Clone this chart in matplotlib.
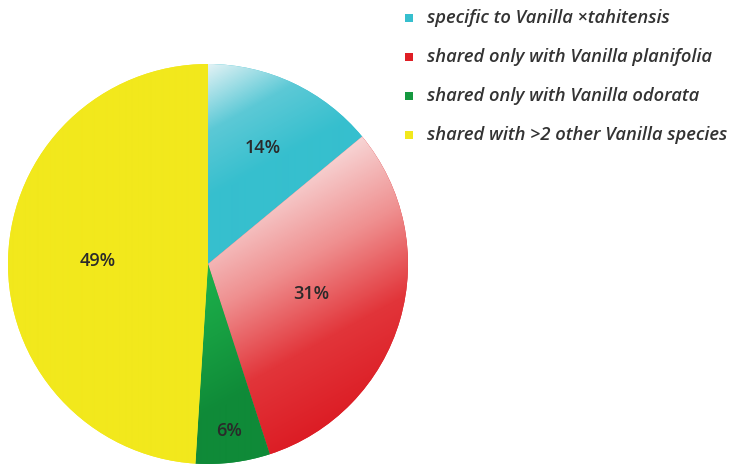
import numpy as np
import matplotlib
matplotlib.use("Agg")
import matplotlib.pyplot as plt
from matplotlib.colors import LinearSegmentedColormap, to_rgb

categories = ["specific to Vanilla \u00d7tahitensis",
              "shared only with Vanilla planifolia",
              "shared only with Vanilla odorata",
              "shared with >2 other Vanilla species"]
values = [14, 31, 6, 49]
pct_labels = ["14%", "31%", "6%", "49%"]

base_colors = ["#36bfce", "#df1e25", "#15983f", "#f2e81c"]
# gradient stops for each wedge (light -> saturated)
grad_stops = [["#e2f2f5", "#5cc9d6", "#36bfce", "#36bfce"],
              ["#f7d4d4", "#ef8f8f", "#e2353a", "#dc1c24"],
              ["#1db24c", "#179f42", "#0f8a38", "#0f8a38"],
              ["#f2e81c", "#f2e81c", "#f2e81c", "#f2e81c"]]
label_radius = [0.64, 0.54, 0.84, 0.55]

W, H = 734, 466
fig = plt.figure(figsize=(W / 100, H / 100), dpi=100)
fig.patch.set_facecolor("white")

cx, cy, r = 208, 264, 200
ax = fig.add_axes([(cx - r) / W, (H - cy - r) / H, 2 * r / W, 2 * r / H])
wedges, texts = ax.pie(values, colors=base_colors, startangle=90,
                       counterclock=False, radius=1.0,
                       wedgeprops=dict(linewidth=0))
ax.set_xlim(-1, 1)
ax.set_ylim(-1, 1)
ax.set_aspect("equal")
ax.axis("off")

# diagonal gradient fill clipped to each wedge (light at top-left)
n = 400
gx, gy = np.meshgrid(np.linspace(-1, 1, n), np.linspace(-1, 1, n))
d = np.array([1.0, -1.8])
d /= np.linalg.norm(d)
proj = gx * d[0] + gy * d[1]
for w, stops in zip(wedges, grad_stops):
    verts = w.get_patch_transform().transform(w.get_path().vertices)
    p = verts[:, 0] * d[0] + verts[:, 1] * d[1]
    lo, hi = p.min(), p.max()
    t = np.clip((proj - lo) / (hi - lo), 0, 1)
    cmap = LinearSegmentedColormap.from_list("g", [to_rgb(s) for s in stops])
    im = ax.imshow(t, cmap=cmap, origin="lower", extent=[-1, 1, -1, 1],
                   zorder=2, interpolation="bilinear", vmin=0, vmax=1)
    im.set_clip_path(w)

# percentage labels
theta = 90.0
for v, lab, rr in zip(values, pct_labels, label_radius):
    ang = np.deg2rad(theta - v / sum(values) * 360 / 2)
    theta -= v / sum(values) * 360
    ax.text(rr * np.cos(ang), rr * np.sin(ang), lab, ha="center", va="center",
            fontsize=13, color="#2a2a2a", family="Open Sans", weight="semibold",
            zorder=5)

# legend
leg_y = [18, 57, 96, 135]
for y, c, t in zip(leg_y, base_colors, categories):
    fig.patches.append(plt.Rectangle((405 / W, 1 - (y + 4) / H), 8 / W, 8 / H,
                                     transform=fig.transFigure,
                                     facecolor=c, edgecolor="none"))
    fig.text(427 / W, 1 - y / H, t, ha="left", va="center", fontsize=13.2,
             style="italic", weight="semibold", family="Open Sans", color="#333333")

fig.savefig("out.png", dpi=100, facecolor="white")
